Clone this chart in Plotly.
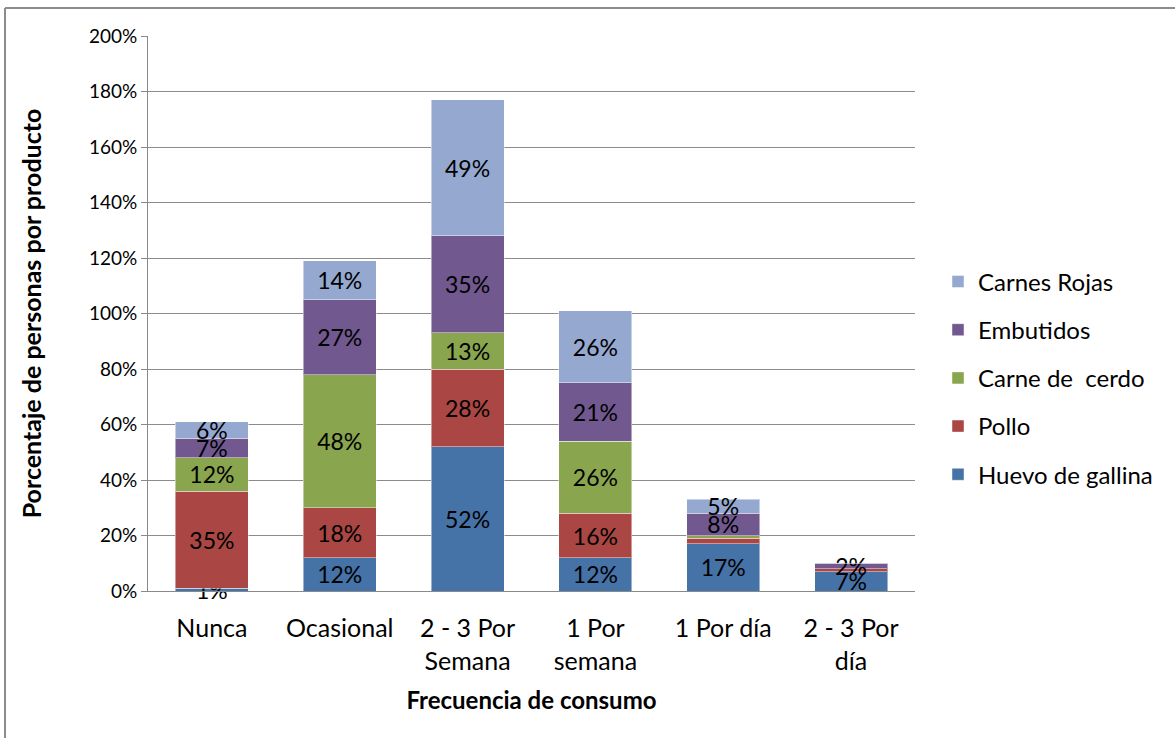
import plotly.graph_objects as go

# Frequency of consumption categories
categorias = ["Nunca", "Ocasional", "2 - 3 Por<br>Semana", "1 Por<br>semana", "1 Por día", "2 - 3 Por<br>día"]

# Share of people per product (%) for each frequency
huevo = [1, 12, 52, 12, 17, 7]
pollo = [35, 18, 28, 16, 2, 1]
cerdo = [12, 48, 13, 26, 1, 0]
embutidos = [7, 27, 35, 21, 8, 2]
rojas = [6, 14, 49, 26, 5, 0]

# Which segments carry a value label
huevo_lbl = [True, True, True, True, True, True]
pollo_lbl = [True, True, True, True, False, False]
cerdo_lbl = [True, True, True, True, False, False]
embutidos_lbl = [True, True, True, True, True, True]
rojas_lbl = [True, True, True, True, True, False]

series = [
    ("Huevo de gallina", huevo, huevo_lbl, "#4572A7"),
    ("Pollo", pollo, pollo_lbl, "#AA4643"),
    ("Carne de  cerdo", cerdo, cerdo_lbl, "#89A54E"),
    ("Embutidos", embutidos, embutidos_lbl, "#71588F"),
    ("Carnes Rojas", rojas, rojas_lbl, "#95A9D0"),
]

FONT = "Lato, 'Open Sans', sans-serif"

fig = go.Figure()
for i, (name, vals, lbl, color) in enumerate(series):
    fig.add_trace(go.Bar(
        name=name,
        x=categorias,
        y=vals,
        legendgroup=str(i),
        legendrank=len(series) - i,
        marker=dict(color=color, line=dict(color="rgba(255,255,255,0.45)", width=1)),
        text=[f"{v}%" if show else "" for v, show in zip(vals, lbl)],
        textposition="inside",
        insidetextanchor="middle",
        textangle=0,
        textfont=dict(family=FONT, size=23, color="black"),
        cliponaxis=False,
        hovertemplate="%{x}: %{y}%<extra>" + name + "</extra>",
    ))

fig.update_layout(
    barmode="stack",
    bargap=0.43,
    width=1175,
    height=746,
    margin=dict(l=148, r=260, t=36, b=155),
    paper_bgcolor="white",
    plot_bgcolor="white",
    font=dict(family=FONT, size=19, color="black"),
    uniformtext=dict(minsize=23, mode="show"),
    legend=dict(
        x=1.03, y=0.384, xanchor="left", yanchor="middle",
        traceorder="grouped",
        tracegroupgap=14,
        font=dict(family=FONT, size=24, color="black"),
        itemwidth=30,
    ),
    xaxis=dict(
        showline=True, linecolor="#898989", linewidth=1,
        ticks="", tickfont=dict(family=FONT, size=25),
        ticklabelstandoff=15,
        title=dict(text="<b>Frecuencia de consumo</b>", font=dict(family=FONT, size=24), standoff=18),
    ),
    yaxis=dict(
        range=[0, 200], dtick=20, ticksuffix="%",
        showgrid=True, gridcolor="#8C8C8C", gridwidth=1,
        showline=True, linecolor="#898989", linewidth=1,
        ticks="outside", ticklen=6, tickcolor="#898989",
        tickfont=dict(family=FONT, size=19),
        zeroline=False,
        title=dict(text="<b>Porcentaje de personas por producto</b>", font=dict(family=FONT, size=25), standoff=40),
    ),
    shapes=[
        dict(type="line", xref="paper", yref="paper",
             x0=(5 - 148) / 767, x1=(5 - 148) / 767, y0=(746 - 155 - 738) / 555, y1=(746 - 155 - 8) / 555,
             line=dict(color="#8C8C8C", width=2)),
        dict(type="line", xref="paper", yref="paper",
             x0=(5 - 148) / 767, x1=(1175 - 148) / 767, y0=(746 - 155 - 8) / 555, y1=(746 - 155 - 8) / 555,
             line=dict(color="#8C8C8C", width=2)),
    ],
)

fig.write_html("out.html")
